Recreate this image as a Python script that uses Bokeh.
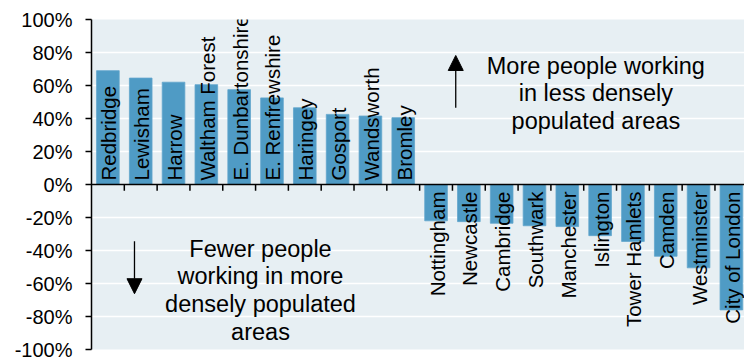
import math
from bokeh.plotting import figure
from bokeh.models import Range1d, FixedTicker, ColumnDataSource, Arrow, NormalHead, Span
from bokeh.core.properties import value
from bokeh.embed import file_html
from bokeh.resources import INLINE

# Change in share of people working in each area (fraction)
areas_up = ["Redbridge", "Lewisham", "Harrow", "Waltham Forest", "E. Dunbartonshire",
            "E. Renfrewshire", "Haringey", "Gosport", "Wandsworth", "Bromley"]
change_up = [0.69, 0.645, 0.62, 0.605, 0.575, 0.525, 0.465, 0.425, 0.415, 0.405]

areas_down = ["Nottingham", "Newcastle", "Cambridge", "Southwark", "Manchester",
              "Islington", "Tower Hamlets", "Camden", "Westminster", "City of London"]
change_down = [-0.22, -0.225, -0.235, -0.25, -0.255, -0.31, -0.345, -0.435, -0.505, -0.76]

y_ticks = [-1.0, -0.8, -0.6, -0.4, -0.2, 0.0, 0.2, 0.4, 0.6, 0.8, 1.0]
y_tick_labels = ["-100%", "-80%", "-60%", "-40%", "-20%", "0%", "20%", "40%", "60%", "80%", "100%"]

note_up = ["More people working", "in less densely", "populated areas"]
note_down = ["Fewer people", "working in more", "densely populated", "areas"]

FONT = "Liberation Sans"
BAR = "#4f9bc5"
BG = "#e7eff3"

areas = areas_up + areas_down
change = change_up + change_down
xpos = [i + 0.5 for i in range(len(areas))]

p = figure(width=744, height=360, output_backend="svg", toolbar_location=None,
           x_range=Range1d(0, 19.9), y_range=Range1d(-1, 1),
           x_axis_location=None, min_border_left=91, min_border_right=0,
           min_border_top=19, min_border_bottom=11)
p.background_fill_color = BG
p.border_fill_color = "white"
p.outline_line_color = None
p.xgrid.visible = False
p.ygrid.ticker = FixedTicker(ticks=y_ticks)
p.ygrid.grid_line_color = "white"
p.ygrid.grid_line_width = 1.5

yax = p.yaxis[0]
yax.ticker = FixedTicker(ticks=y_ticks)
yax.major_label_overrides = {t: s for t, s in zip(y_ticks, y_tick_labels)}
yax.major_label_text_font = FONT
yax.major_label_text_font_size = "20px"
yax.major_label_text_color = "black"
yax.major_label_standoff = 13
yax.major_tick_out = 6
yax.major_tick_in = 0
yax.minor_tick_line_color = None
yax.axis_line_color = "black"
yax.axis_line_width = 1.5
yax.major_tick_line_width = 1.5

src = ColumnDataSource(dict(x=xpos, top=change, name=areas))
p.vbar(x="x", top="top", bottom=0, width=0.69, source=src,
       fill_color=BAR, line_color="#62a6cd", line_width=0.8)

# Zero line with category separators hanging below it
p.add_layout(Span(location=0, dimension="width", line_color="black", line_width=1.5))
bounds = list(range(1, len(areas)))
p.scatter(x=bounds, y=[-0.019] * len(bounds), marker="dash", angle=math.pi / 2,
          size=6, line_color="black", line_width=1.5)

n_up = len(areas_up)
p.text(x=xpos[:n_up], y=[0] * n_up, text=areas_up, angle=math.pi / 2,
       text_align="left", text_baseline="middle", y_offset=-4, x_offset=1,
       text_font=value(FONT), text_font_size="20.5px", text_color="black")
p.text(x=xpos[n_up:], y=[0] * len(areas_down), text=areas_down, angle=math.pi / 2,
       text_align="right", text_baseline="middle", y_offset=7, x_offset=1,
       text_font=value(FONT), text_font_size="20.5px", text_color="black")

# Explanatory notes
up_x, up_y0, step = 15.37, 0.721, 0.167
p.text(x=[up_x] * len(note_up), y=[up_y0 - i * step for i in range(len(note_up))],
       text=note_up, text_align="center", text_baseline="alphabetic",
       text_font=value(FONT), text_font_size="23.5px", text_color="black")
dn_x, dn_y0 = 5.15, -0.39
p.text(x=[dn_x] * len(note_down), y=[dn_y0 - i * step for i in range(len(note_down))],
       text=note_down, text_align="center", text_baseline="alphabetic",
       text_font=value(FONT), text_font_size="23.5px", text_color="black")

p.add_layout(Arrow(x_start=11.1, y_start=0.465, x_end=11.1, y_end=0.782,
                   line_color="black", line_width=1.3,
                   end=NormalHead(size=15, fill_color="black", line_color="black")))
p.add_layout(Arrow(x_start=1.31, y_start=-0.344, x_end=1.31, y_end=-0.662,
                   line_color="black", line_width=1.3,
                   end=NormalHead(size=15, fill_color="black", line_color="black")))

open("out.html", "w").write(file_html(p, INLINE))
